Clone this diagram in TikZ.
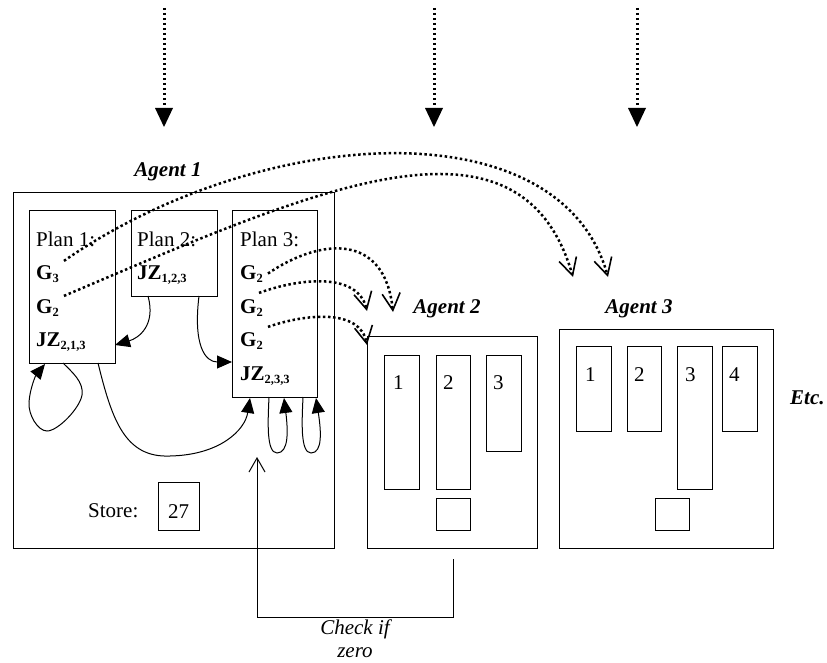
\documentclass[tikz,border=0pt]{standalone}
\usepackage{fontspec}
\setmainfont{Liberation Serif}
\usetikzlibrary{arrows.meta}

% small bold subscript used in the goal and jump labels
\newcommand\lowidx[1]{\raisebox{-3pt}{\fontsize{12.5}{13}\selectfont #1}}

\tikzset{
  box/.style={draw, line width=1pt, inner sep=0pt, outer sep=0pt, anchor=north west},
  txt/.style={inner sep=0pt, anchor=base west, font=\fontsize{21}{23}\selectfont},
  ctxt/.style={inner sep=0pt, anchor=base, font=\fontsize{21}{23}\selectfont},
  agentlbl/.style={inner sep=0pt, anchor=base, font=\fontsize{21}{23}\selectfont\bfseries\itshape},
  inflow/.style={line width=3pt, dash pattern=on 2.5pt off 2.5pt,
    -{Triangle[length=19pt,width=18pt,line width=0pt]}},
  msg/.style={line width=2.5pt, dash pattern=on 2.5pt off 2.6pt,
    -{Straight Barb[length=17pt,width=18pt,line width=1.6pt]}},
  flow/.style={line width=1pt, -{Triangle[length=15pt,width=13pt]}},
  check/.style={line width=1pt, -{Straight Barb[length=14pt,width=16pt,line width=1pt]}}
}

\begin{document}
\begin{tikzpicture}[x=1pt,y=-1pt]
\useasboundingbox (0,0) rectangle (827,663);

% incoming streams at the top
\coordinate (s1) at (164,8);   \coordinate (e1) at (164,127);
\coordinate (s2) at (434,8);   \coordinate (e2) at (434,127);
\coordinate (s3) at (637,8);   \coordinate (e3) at (637,127);
\draw[inflow] (s1) -- (e1);
\draw[inflow] (s2) -- (e2);
\draw[inflow] (s3) -- (e3);

% ---------------- Agent 1 ----------------
\node[agentlbl] (lab1) at (168,177) {Agent 1};
\node[box, minimum width=321, minimum height=355] (agent1) at (13,193) {};
\node[box, minimum width=86, minimum height=152] (plan1) at (29,211) {};
\node[box, minimum width=86, minimum height=85] (plan2) at (131,211) {};
\node[box, minimum width=85, minimum height=186] (plan3) at (232,211) {};

\node[txt] (p1t) at (36,246) {Plan 1:};
\node[txt] (p1g3) at (36,279) {\bfseries G\lowidx{3}};
\node[txt] (p1g2) at (36,313) {\bfseries G\lowidx{2}};
\node[txt] (p1jz) at (36,346) {\bfseries JZ\lowidx{2,1,3}};

\node[txt] (p2t) at (137,246) {Plan 2:};
\node[txt] (p2jz) at (137,279) {\bfseries JZ\lowidx{1,2,3}};

\node[txt] (p3t) at (240,246) {Plan 3:};
\node[txt] (p3ga) at (240,279) {\bfseries G\lowidx{2}};
\node[txt] (p3gb) at (240,313) {\bfseries G\lowidx{2}};
\node[txt] (p3gc) at (240,346) {\bfseries G\lowidx{2}};
\node[txt] (p3jz) at (240,380) {\bfseries JZ\lowidx{2,3,3}};

\node[txt] (storelbl) at (88,517) {Store:};
\node[box, minimum width=41, minimum height=48] (store) at (158,482) {};
\node[ctxt] (storeval) at (178.5,518) {27};

% control flow inside Agent 1
\draw[flow] ([xshift=17pt]plan2.south west)
  .. controls +(8,29) and +(24,-7) .. ([yshift=-58pt]plan1.east);
\draw[flow] ([xshift=-18pt]plan2.south east)
  .. controls +(-6,49) and +(-27,0) .. ([yshift=-58pt]plan3.west);
\draw[flow] ([xshift=34pt]plan1.south west)
  .. controls (72,372) and (84,382) .. (82,395)
  .. controls (80,408) and (58,431) .. (47,431)
  .. controls (38,431) and (28,415) .. (29,402)
  .. controls (30,388) and (36,375) .. ([xshift=16pt,yshift=-1pt]plan1.south west);
\draw[flow] ([xshift=-17pt]plan1.south east)
  .. controls (112,420) and (125,458) .. (170,456)
  .. controls (220,455) and (245,430) .. ([xshift=18pt,yshift=-1pt]plan3.south west);
\draw[flow] ([xshift=37pt]plan3.south west)
  .. controls (268,420) and (266,453) .. (277,453)
  .. controls (289,453) and (288,430) .. ([xshift=52pt,yshift=-1pt]plan3.south west);
\draw[flow] ([xshift=71pt]plan3.south west)
  .. controls (302,420) and (300,453) .. (311,453)
  .. controls (323,453) and (321,430) .. ([xshift=84pt,yshift=-1pt]plan3.south west);

% ---------------- Agent 2 ----------------
\node[agentlbl] (lab2) at (447,313) {Agent 2};
\node[box, minimum width=170, minimum height=212] (agent2) at (367,336) {};
\node[box, minimum width=35, minimum height=134] (a2p1) at (384,355) {};
\node[box, minimum width=34, minimum height=134] (a2p2) at (436,355) {};
\node[box, minimum width=35, minimum height=96] (a2p3) at (486,355) {};
\node[box, minimum width=34, minimum height=32] (a2store) at (436,498) {};
\node[txt] (a2n1) at (393,389) {1};
\node[txt] (a2n2) at (443,389) {2};
\node[txt] (a2n3) at (493,389) {3};

% ---------------- Agent 3 ----------------
\node[agentlbl] (lab3) at (639,313) {Agent 3};
\node[box, minimum width=214, minimum height=219] (agent3) at (559,329) {};
\node[box, minimum width=35, minimum height=85] (a3p1) at (576,346) {};
\node[box, minimum width=34, minimum height=85] (a3p2) at (627,346) {};
\node[box, minimum width=35, minimum height=143] (a3p3) at (677,346) {};
\node[box, minimum width=35, minimum height=85] (a3p4) at (722,346) {};
\node[box, minimum width=34, minimum height=32] (a3store) at (655,498) {};
\node[txt] (a3n1) at (585,381) {1};
\node[txt] (a3n2) at (634,381) {2};
\node[txt] (a3n3) at (685,381) {3};
\node[txt] (a3n4) at (729,381) {4};

\node[agentlbl, anchor=base west] (etc) at (790,404) {Etc.};

% goal messages sent to other agents
\coordinate (toA3a) at (608,277);
\coordinate (toA3b) at (573,277);
\coordinate (toA2a) at (393,312);
\coordinate (toA2b) at (367,311);
\draw[msg] ([xshift=5pt,yshift=4pt]p1g3.north east)
  .. controls (260,125) and (560,105) .. (toA3a);
\draw[msg] ([xshift=5pt,yshift=3pt]p1g2.north east)
  .. controls (313,190) and (520,95) .. (toA3b);
\draw[msg] ([xshift=5pt]p3ga.east)
  .. controls (320,238) and (385,232) .. (toA2a);
\draw[msg] ([xshift=-4pt,yshift=6pt]p3gb.north east)
  .. controls (300,278) and (358,272) .. (toA2b);
\draw[msg] ([xshift=5pt,yshift=5pt]p3gc.north east)
  .. controls (305,314) and (360,308) .. ([yshift=-9pt]agent2.north west);

% zero test fed back into Agent 1
\coordinate (chkstart) at (453,559);
\coordinate (chkend) at (257,457);
\draw[check] (chkstart) -- ++(0,58) -| (chkend);
\node[inner sep=0pt, anchor=north, align=center,
      font=\fontsize{21}{23}\selectfont\itshape] (chklbl) at (355,620) {Check if\\zero};
\end{tikzpicture}
\end{document}
